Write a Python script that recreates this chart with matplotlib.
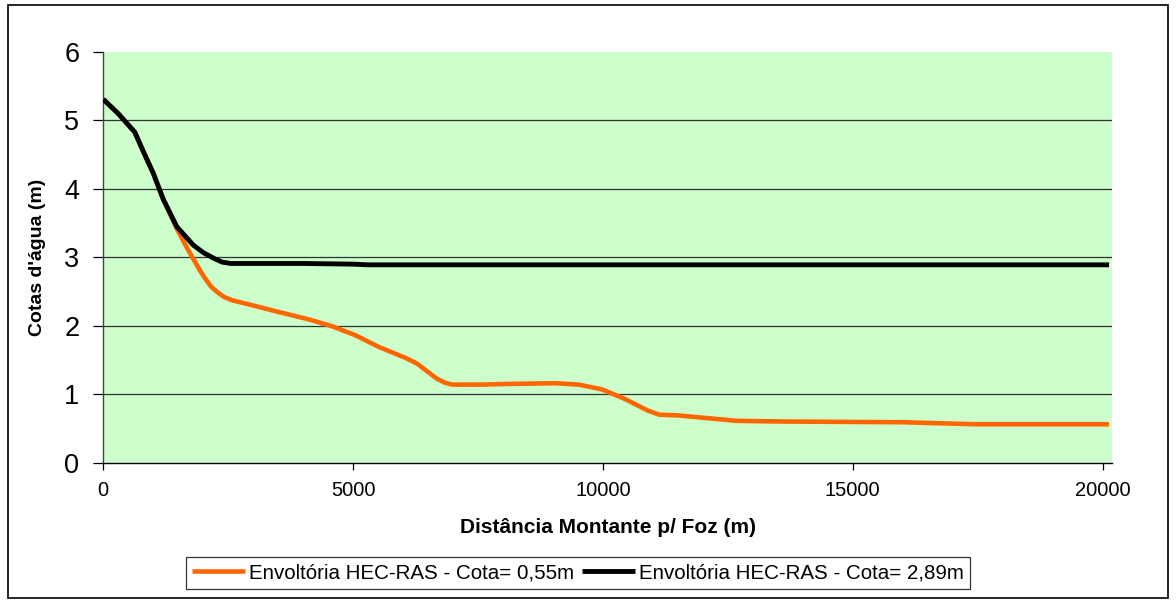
import matplotlib
matplotlib.use("Agg")
import matplotlib.pyplot as plt
from matplotlib.patches import Rectangle

plt.rcParams['font.family'] = ['Liberation Sans', 'DejaVu Sans']

# Data
x_low = [0, 300, 630, 800, 1000, 1200, 1470, 1667, 1934, 2050, 2160, 2285, 2420, 2590, 2980,
         3515, 4130, 4590, 5050, 5515, 6050, 6285, 6670, 6830, 6980, 7590, 8130, 9050, 9515,
         9980, 10440, 10900, 11130, 11500, 12680, 13640, 16000, 17470, 20130]
y_low = [5.31, 5.10, 4.83, 4.55, 4.23, 3.85, 3.42, 3.15, 2.81, 2.68, 2.57, 2.49, 2.42, 2.37,
         2.30, 2.20, 2.09, 1.99, 1.86, 1.69, 1.53, 1.445, 1.23, 1.17, 1.14, 1.14, 1.15, 1.16,
         1.14, 1.07, 0.93, 0.76, 0.70, 0.69, 0.61, 0.60, 0.59, 0.56, 0.56]

x_high = [0, 300, 630, 800, 1000, 1200, 1470, 1800, 2000, 2200, 2380, 2550, 3000, 4000,
          5000, 5300, 8000, 12000, 16000, 19000, 20130]
y_high = [5.31, 5.10, 4.83, 4.55, 4.23, 3.85, 3.45, 3.18, 3.07, 2.99, 2.93, 2.91, 2.91, 2.91,
          2.90, 2.89, 2.89, 2.89, 2.89, 2.89, 2.89]

label_low = "Envoltória HEC-RAS - Cota= 0,55m"
label_high = "Envoltória HEC-RAS - Cota= 2,89m"

x_ticks = [0, 5000, 10000, 15000, 20000]
y_ticks = [0, 1, 2, 3, 4, 5, 6]

fig = plt.figure(figsize=(11.76, 6.0), dpi=100)
ax = fig.add_axes([0.0878, 0.229, 0.8578, 0.6843])
ax.set_facecolor('#CCFFCC')

for yv in y_ticks[1:-1]:
    ax.axhline(yv, color='#333333', linewidth=0.9, zorder=1)

ax.plot(x_low, y_low, color='#FF6600', linewidth=3.3, label=label_low, zorder=3,
        solid_capstyle='butt', solid_joinstyle='round')
ax.plot(x_high, y_high, color='black', linewidth=3.5, label=label_high, zorder=4,
        solid_capstyle='butt', solid_joinstyle='round')

ax.set_xlim(0, 20190)
ax.set_ylim(0, 6)
ax.set_xticks(x_ticks)
ax.set_yticks(y_ticks)
ax.tick_params(axis='x', labelsize=14.5, length=5, width=0.9, direction='out', pad=8)
ax.tick_params(axis='y', labelsize=19.5, length=7.2, width=0.9, direction='out', pad=10)

for s in ['top', 'right']:
    ax.spines[s].set_visible(False)
ax.spines['left'].set_color('#444444')
ax.spines['bottom'].set_color('black')
ax.spines['left'].set_linewidth(1.0)
ax.spines['bottom'].set_linewidth(1.0)

ax.set_xlabel("Distância Montante p/ Foz (m)", fontsize=15, fontweight='bold', labelpad=13)
ax.set_ylabel("Cotas d'água (m)", fontsize=14, fontweight='bold', labelpad=13)

leg = fig.legend(loc='center', bbox_to_anchor=(0.4915, 0.045), ncol=2, fontsize=14.8,
                 frameon=True, fancybox=False, edgecolor='black', handlelength=2.6,
                 handletextpad=0.2, columnspacing=0.35, borderpad=0.3, borderaxespad=0)
leg.get_frame().set_linewidth(0.9)

fig.patches.append(Rectangle((8/1176, 2/600), 1 - 16/1176, 1 - 7/600, transform=fig.transFigure,
                             fill=False, edgecolor='black', linewidth=1.2))

fig.savefig("out.png", dpi=100)
